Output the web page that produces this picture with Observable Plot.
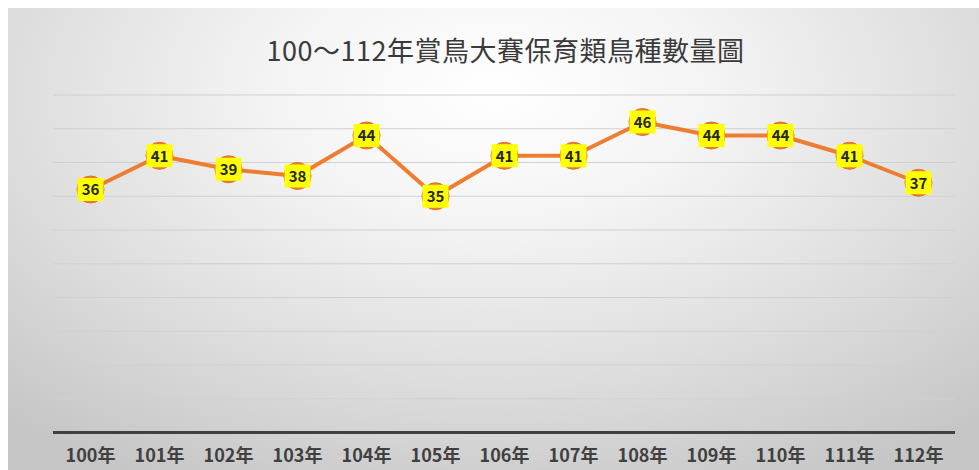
<!DOCTYPE html>
<html>
<head>
<meta charset="utf-8">
<script src="https://cdn.jsdelivr.net/npm/d3@7"></script>
<script src="https://cdn.jsdelivr.net/npm/@observablehq/plot@0.6"></script>
<style>
  html, body { margin: 0; padding: 0; background: #ffffff; }
  #wrap {
    position: absolute; left: 8px; top: 8px; width: 971px; height: 462px; overflow: hidden;
    background: radial-gradient(ellipse 75% 95% at 50% 18%, #ffffff 0%, #f4f4f4 30%, #dedede 65%, #c6c6c6 100%);
    font-family: "Noto Sans CJK TC", "Noto Sans", sans-serif;
  }
  #title {
    position: absolute; left: 12px; top: 22px; width: 971px; text-align: center;
    font-size: 27px; color: #3a3a3a; letter-spacing: 0.5px;
    font-family: "Noto Sans CJK TC", sans-serif; font-weight: 400;
  }
  #chart { position: absolute; left: 0; top: 0; }
</style>
</head>
<body>
<div id="wrap">
  <div id="title">100～112年賞鳥大賽保育類鳥種數量圖</div>
  <div id="chart"></div>
</div>
<script>
const years = ["100年","101年","102年","103年","104年","105年","106年","107年","108年","109年","110年","111年","112年"];
const counts = [36, 41, 39, 38, 44, 35, 41, 41, 46, 44, 44, 41, 37];
const yTicks = [0, 5, 10, 15, 20, 25, 30, 35, 40, 45, 50];

const data = years.map((y, i) => ({year: y, value: counts[i]}));

const boxSymbol = {
  draw(context, size) {
    const w = 26, h = 23;
    context.moveTo(-w / 2, -h / 2);
    context.lineTo(w / 2, -h / 2);
    context.lineTo(w / 2, h / 2);
    context.lineTo(-w / 2, h / 2);
    context.closePath();
  }
};

const chart = Plot.plot({
  width: 971,
  height: 462,
  marginLeft: 45,
  marginRight: 24,
  marginTop: 86.5,
  marginBottom: 38,
  style: {background: "transparent", fontFamily: "'Noto Sans CJK TC', sans-serif", overflow: "visible"},
  x: {type: "point", domain: years, padding: 0.5},
  y: {domain: [0, 50], axis: null},
  marks: [
    Plot.ruleY(yTicks.filter(d => d > 0), {stroke: "#d0d0d0", strokeWidth: 1}),
    Plot.ruleY([0], {stroke: "#404040", strokeWidth: 3}),
    Plot.axisX({tickSize: 0, tickPadding: 17, fontSize: 18, fontWeight: "bold", fill: "#404040", label: null}),
    Plot.line(data, {x: "year", y: "value", stroke: "#ED7D31", strokeWidth: 4}),
    Plot.dot(data, {x: "year", y: "value", r: 13.5, fill: "#ED7D31", stroke: "#E07020", strokeWidth: 1}),
    Plot.dot(data, {x: "year", y: "value", symbol: boxSymbol, r: 10, fill: "#FFFF00", stroke: "none"}),
    Plot.text(data, {x: "year", y: "value", text: d => String(d.value), fontSize: 15, fontWeight: "bold", fill: "#262626", dy: 1})
  ]
});
document.getElementById("chart").appendChild(chart);
</script>
</body>
</html>
